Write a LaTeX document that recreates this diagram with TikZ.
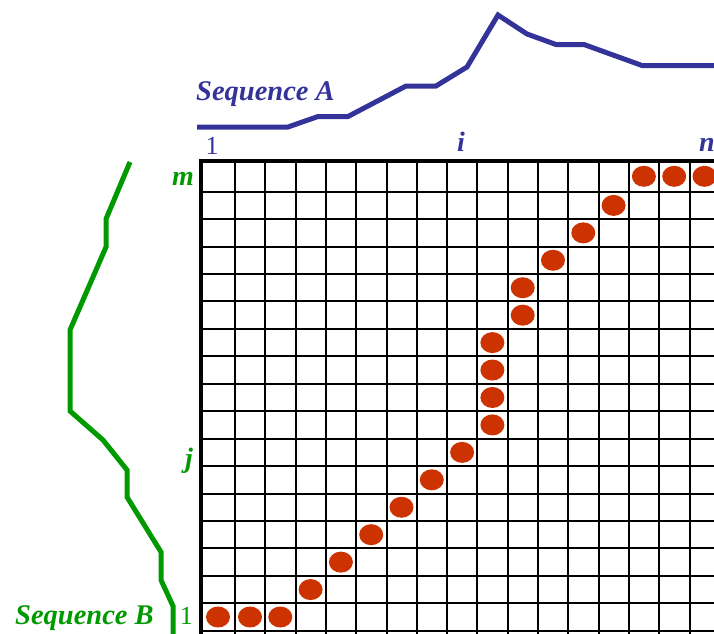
\documentclass[tikz,border=0pt]{standalone}
\usepackage{fontspec}
\setmainfont{Liberation Serif}
\usetikzlibrary{shapes.geometric}
\definecolor{seqblue}{RGB}{51,51,153}
\definecolor{seqgreen}{RGB}{0,153,0}
\definecolor{dotred}{RGB}{204,51,0}
\tikzset{
  gridline/.style={line width=2pt,black},
  border/.style={line width=4pt,black},
  seqA/.style={line width=5pt,seqblue},
  seqB/.style={line width=5pt,seqgreen},
  dotnode/.style={ellipse,fill=dotred,minimum width=24pt,minimum height=21pt,inner sep=0pt},
  seqlbl/.style={inner sep=0pt,font=\bfseries\itshape\fontsize{28.5}{28.5}\selectfont},
  idxlbl/.style={inner sep=0pt,font=\bfseries\itshape\fontsize{28}{28}\selectfont},
  numlbl/.style={inner sep=0pt,font=\fontsize{26}{26}\selectfont},
}
\begin{document}
\begin{tikzpicture}[x=1pt,y=-1pt]
\useasboundingbox (0,0) rectangle (714,633);
% grid
\foreach \k in {1,...,16} {
  \pgfmathsetmacro\gx{235+30.3*(\k-1)}
  \draw[gridline] (\gx,161) -- (\gx,640);
}
\foreach \k in {1,...,17} {
  \pgfmathsetmacro\gy{191.7+27.44*(\k-1)}
  \draw[gridline] (201,\gy) -- (720,\gy);
}
\draw[border] (201,640) -- (201,161) -- (720,161);
% dots
\foreach \c/\r [count=\i] in {15/1,16/1,17/1,14/2,13/3,12/4,11/5,11/6,10/7,10/8,10/9,10/10,9/11,8/12,7/13,6/14,5/15,4/16,1/17,2/17,3/17} {
  \pgfmathsetmacro\px{\c==1 ? 218 : 250+30.3*(\c-2)}
  \pgfmathsetmacro\py{\r==1 ? 176.3 : 205.4+27.44*(\r-2)}
  \node[dotnode] (d\i) at (\px,\py) {};
}
% sequence A
\draw[seqA] (197,127) -- (288,127) -- (318,116.5) -- (348,116.5) -- (406,86) -- (436,86) -- (467,67) -- (498,15) -- (527,34) -- (556,44.5) -- (584,44.5) -- (642,65.5) -- (720,65.5);
% sequence B
\draw[seqB] (130,162) -- (106,219) -- (106,247) -- (70,330) -- (70,411) -- (103,440) -- (127,470) -- (127,497) -- (161,552) -- (161,580) -- (173,606) -- (173,640);
% labels
\node[seqlbl,text=seqblue,anchor=base west] (labA) at (196,100) {Sequence A};
\node[numlbl,text=seqblue,anchor=base] (n1A) at (212,154) {1};
\node[idxlbl,text=seqblue,anchor=base] (iA) at (461,151) {i};
\node[idxlbl,text=seqblue,anchor=base west] (nA) at (699,151) {n};
\node[idxlbl,text=seqgreen,anchor=base east] (mB) at (194,185) {m};
\node[idxlbl,text=seqgreen,anchor=base east] (jB) at (193,467) {j};
\node[numlbl,text=seqgreen,anchor=base east] (n1B) at (193,624) {1};
\node[seqlbl,text=seqgreen,anchor=base west] (labB) at (15,624) {Sequence B};
\end{tikzpicture}
\end{document}
